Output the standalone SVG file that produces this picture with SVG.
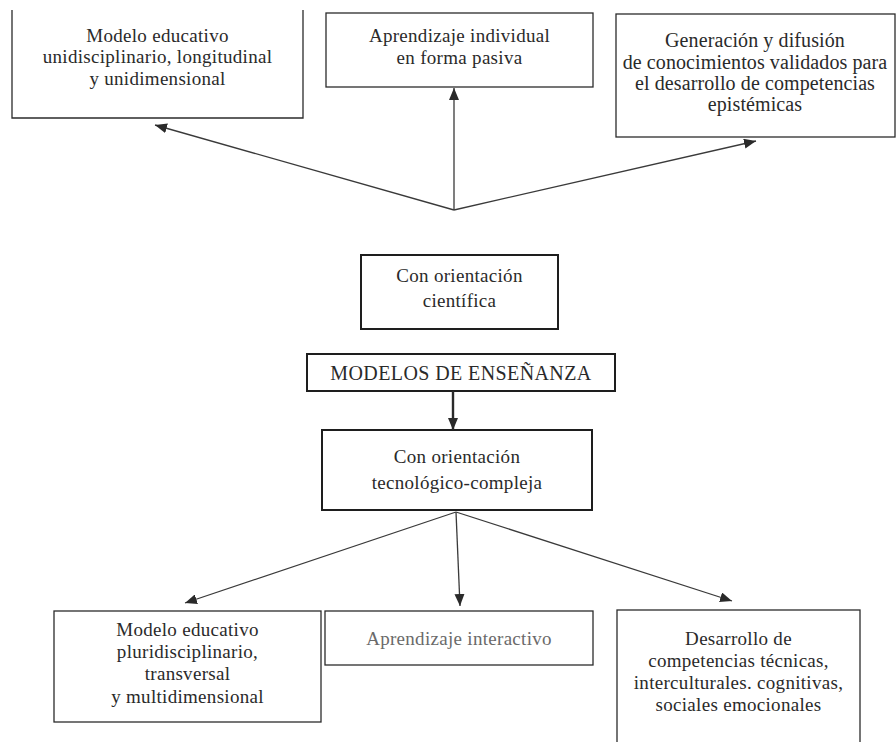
<svg xmlns="http://www.w3.org/2000/svg" width="896" height="742" viewBox="0 0 896 742">
<style>
.box{fill:none;stroke:#2b2b2b;stroke-width:1.3}
.thick{fill:none;stroke:#1e1e1e;stroke-width:2}
.t{font-family:"Liberation Serif","Times New Roman",serif;font-size:19px;fill:#2a2a2a;text-anchor:middle;letter-spacing:0.3px}
.wide{font-size:20px;letter-spacing:0.1px}
.light{fill:#6a6a6a}
.cap{font-size:20px;letter-spacing:0.4px}
.ln{fill:none;stroke:#3a3a3a;stroke-width:1.3}
.lnb{fill:none;stroke:#2a2a2a;stroke-width:2.4}
</style>
<defs>
<marker id="ah" viewBox="0 0 12 10" refX="12" refY="5" markerWidth="12" markerHeight="10" markerUnits="userSpaceOnUse" orient="auto">
<path d="M0,0 L12,5 L0,10 z" fill="#2a2a2a"/>
</marker>
</defs>
<rect width="896" height="742" fill="#ffffff"/>
<g id="n-unidisciplinario">
<path class="box" d="M12,10 V118 H303 V10"/>
<text class="t" x="157.5" y="42">Modelo educativo</text>
<text class="t" x="157.5" y="63">unidisciplinario, longitudinal</text>
<text class="t" x="157.5" y="85">y unidimensional</text>
</g>
<g id="n-individual">
<rect class="box" x="326" y="13" width="267" height="74"/>
<text class="t" x="459.5" y="42">Aprendizaje individual</text>
<text class="t" x="459.5" y="64">en forma pasiva</text>
</g>
<g id="n-generacion">
<rect class="box" x="616" y="14" width="279" height="123"/>
<text class="t wide" x="755" y="47">Generación y difusión</text>
<text class="t wide" x="755" y="69">de conocimientos validados para</text>
<text class="t wide" x="755" y="90">el desarrollo de competencias</text>
<text class="t wide" x="755" y="111">epistémicas</text>
</g>
<g id="n-cientifica">
<rect class="thick" x="361" y="255" width="197" height="74"/>
<text class="t" x="459.5" y="282">Con orientación</text>
<text class="t" x="459.5" y="307">científica</text>
</g>
<g id="n-modelos">
<rect class="thick" x="307" y="354" width="308" height="37"/>
<text class="t cap" x="461" y="380">MODELOS DE ENSEÑANZA</text>
</g>
<g id="n-tecnologico">
<rect class="thick" x="322" y="430" width="270" height="80"/>
<text class="t" x="457" y="463">Con orientación</text>
<text class="t" x="457" y="489">tecnológico-compleja</text>
</g>
<g id="n-pluridisciplinario">
<rect class="box" x="54" y="611" width="267" height="111"/>
<text class="t" x="187.5" y="636">Modelo educativo</text>
<text class="t" x="187.5" y="658">pluridisciplinario,</text>
<text class="t" x="187.5" y="680">transversal</text>
<text class="t" x="187.5" y="703">y multidimensional</text>
</g>
<g id="n-interactivo">
<rect class="box" x="325" y="611" width="268" height="54"/>
<text class="t light" x="459" y="645">Aprendizaje interactivo</text>
</g>
<g id="n-competencias">
<rect class="box" x="617" y="610" width="243" height="140"/>
<text class="t" x="738.5" y="645">Desarrollo de</text>
<text class="t" x="738.5" y="667">competencias técnicas,</text>
<text class="t" x="738.5" y="689">interculturales. cognitivas,</text>
<text class="t" x="738.5" y="711">sociales emocionales</text>
</g>
<g id="connectors">
<line class="ln" x1="454" y1="210" x2="155" y2="125" marker-end="url(#ah)"/>
<line class="ln" x1="454" y1="210" x2="454" y2="88" marker-end="url(#ah)"/>
<line class="ln" x1="454" y1="210" x2="756" y2="141" marker-end="url(#ah)"/>
<line class="lnb" x1="453" y1="391" x2="453" y2="430" marker-end="url(#ah)"/>
<line class="ln" x1="456" y1="512" x2="185" y2="603" marker-end="url(#ah)"/>
<line class="ln" x1="456" y1="512" x2="460" y2="606" marker-end="url(#ah)"/>
<line class="ln" x1="456" y1="512" x2="732" y2="601" marker-end="url(#ah)"/>
</g>
</svg>
